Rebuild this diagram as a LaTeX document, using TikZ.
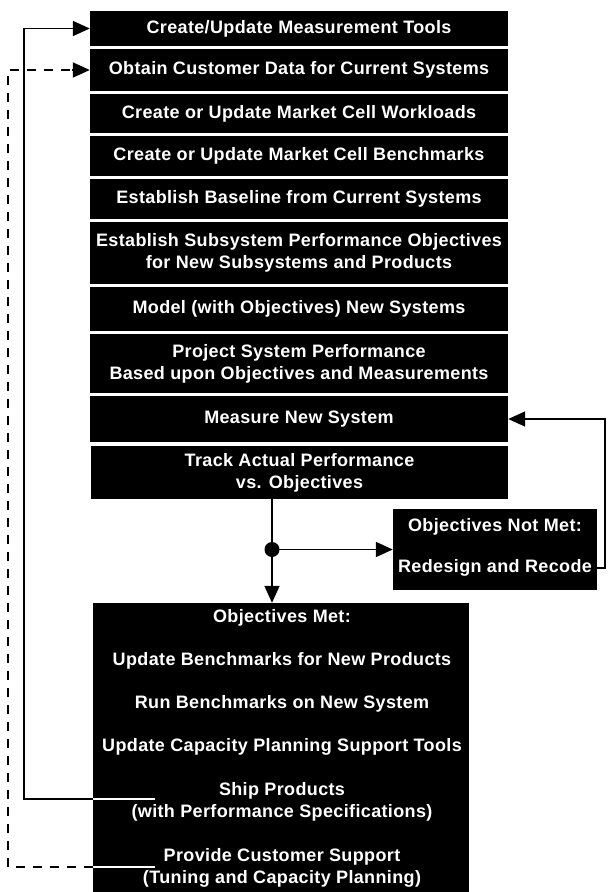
\documentclass[tikz,border=0pt]{standalone}
\usepackage{fontspec}
\setmainfont{Liberation Sans}[LetterSpace=2]
\usetikzlibrary{arrows.meta}
\tikzset{
  stepbox/.style={fill=black, text=white, inner sep=0pt, align=center,
    font=\bfseries\fontsize{18}{22}\selectfont},
  wlabel/.style={text=white, inner sep=0pt, align=center,
    font=\bfseries\fontsize{18}{22}\selectfont},
  flow/.style={line width=1.8pt, -{Triangle[length=17pt,width=15pt]}},
  flowline/.style={line width=1.8pt},
  feed/.style={line width=1.6pt, -{Triangle[length=17pt,width=15pt]}},
  feeddash/.style={line width=1.4pt, dash pattern=on 9pt off 8pt},
  inner/.style={white, line width=1.6pt}
}
\begin{document}
\begin{tikzpicture}[x=1pt,y=-1pt]
\useasboundingbox (0,0) rectangle (608,892);

% main sequence of steps
\node[stepbox, minimum width=418pt, minimum height=35pt] (b1) at (299,28.5) {Create/Update Measurement Tools};
\node[stepbox, minimum width=418pt, minimum height=42pt] (b2) at (299,70) {Obtain Customer Data for Current Systems};
\node[stepbox, minimum width=418pt, minimum height=39pt] (b3) at (299,113.5) {Create or Update Market Cell Workloads};
\node[stepbox, minimum width=418pt, minimum height=40pt] (b4) at (299,156) {Create or Update Market Cell Benchmarks};
\node[stepbox, minimum width=418pt, minimum height=40pt] (b5) at (299,199) {Establish Baseline from Current Systems};
\node[stepbox, minimum width=418pt, minimum height=62pt] (b6) at (299,253) {Establish Subsystem Performance Objectives\\for New Subsystems and Products};
\node[stepbox, minimum width=418pt, minimum height=44pt] (b7) at (299,309) {Model (with Objectives) New Systems};
\node[stepbox, minimum width=418pt, minimum height=59pt] (b8) at (299,363.5) {Project System Performance\\Based upon Objectives and Measurements};
\node[stepbox, minimum width=418pt, minimum height=46pt] (b9) at (299,419) {Measure New System};
\node[stepbox, minimum width=417pt, minimum height=53pt] (b10) at (299.5,472.5) {Track Actual Performance\\vs. Objectives};

% redesign branch
\node[stepbox, minimum width=204pt, minimum height=81pt] (nm) at (495,549.5) {};
\node[wlabel] (nmt) at (495,527) {Objectives Not Met:};
\node[wlabel] (nmr) at (495,568) {Redesign and Recode};

% objectives met block
\node[stepbox, minimum width=376pt, minimum height=289pt] (ok) at (281,747.5) {};
\node[wlabel] (om) at (282,618) {Objectives Met:};
\node[wlabel] (ub) at (282,661) {Update Benchmarks for New Products};
\node[wlabel] (rb) at (282,704) {Run Benchmarks on New System};
\node[wlabel] (uc) at (282,747) {Update Capacity Planning Support Tools};
\node[wlabel] (sp) at (282,801.5) {Ship Products\\(with Performance Specifications)};
\node[wlabel] (pc) at (282,868) {Provide Customer Support\\(Tuning and Capacity Planning)};

% decision point below tracking
\coordinate (dec) at (272,549.5);
\fill (dec) circle (7.5pt);
\draw[flowline] (b10.south -| dec) -- (dec);
\draw[flow] (dec) -- (dec |- ok.north);
\draw[flow] (dec) -- (nm.west);

% feedback from redesign to measurement
\coordinate (rr) at (605,568);
\draw[feed] (nm.east |- rr) -- (rr) |- (b9.east);

% shipping loops back to measurement tools
\coordinate (shipin) at (155,799);
\coordinate (shipout) at (ok.west |- shipin);
\coordinate (lsol) at (24,799);
\draw[inner] (shipout) -- (shipin);
\draw[feed] (shipout) -- (lsol) |- (b1.west);

% customer support loops back to customer data
\coordinate (supin) at (155,867);
\coordinate (supout) at (ok.west |- supin);
\coordinate (ldash) at (8,867);
\draw[inner] (supout) -- (supin);
\draw[feeddash] (supout) -- (ldash) |- ([xshift=-17pt]b2.west);
\draw[feed] ([xshift=-18pt]b2.west) -- (b2.west);
\end{tikzpicture}
\end{document}
